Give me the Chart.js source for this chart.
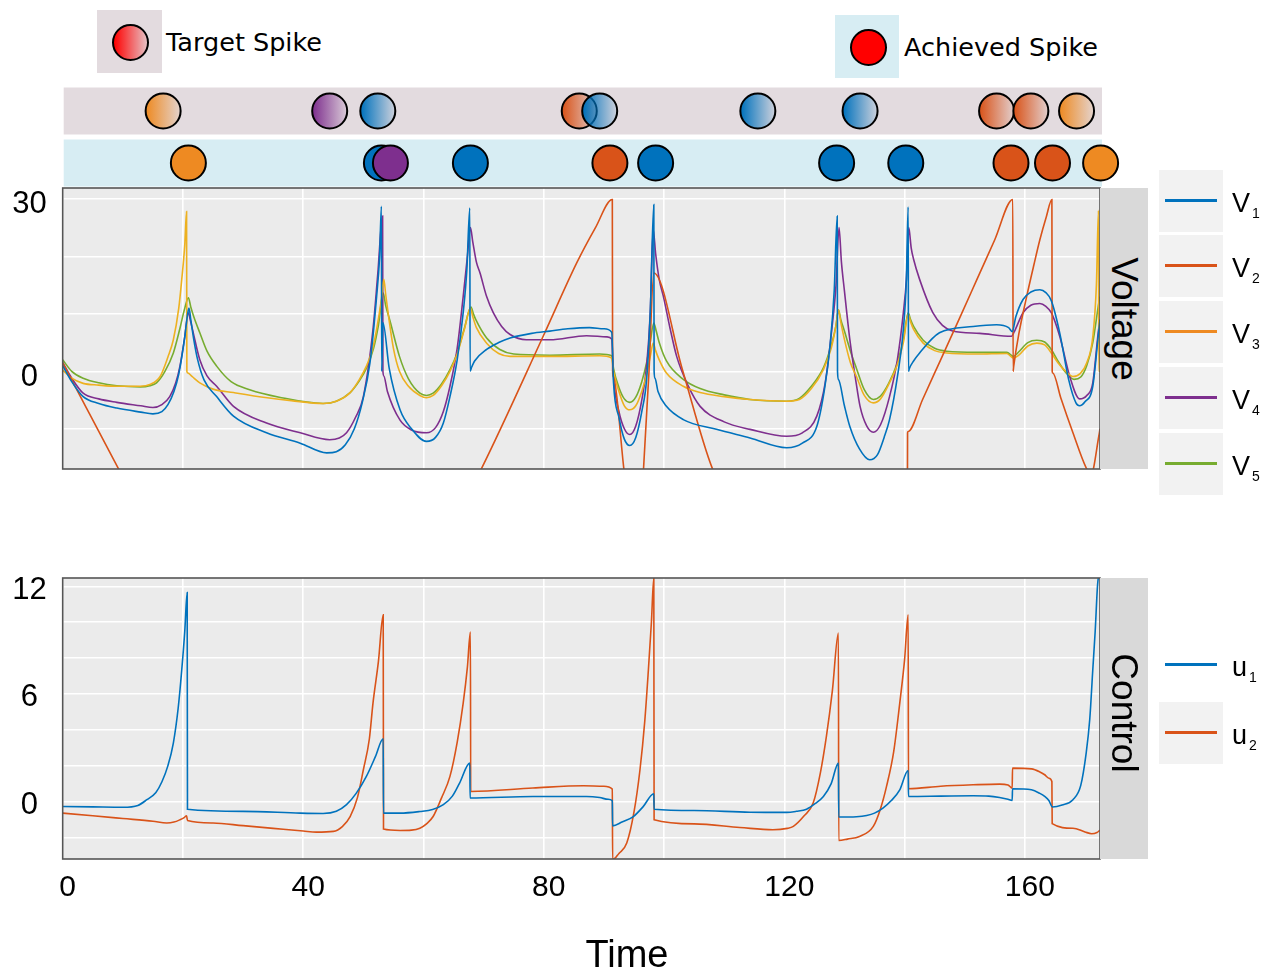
<!DOCTYPE html>
<html>
<head>
<meta charset="utf-8">
<script src="https://cdn.jsdelivr.net/npm/chart.js@4.4.1/dist/chart.umd.min.js"></script>
<style>
  body { margin: 0; background: #fff; }
  #fig { position: relative; width: 1265px; height: 973px; overflow: hidden; font-family: "Liberation Sans", Arial, sans-serif; color: #000; }
  #fig canvas { position: absolute; left: 0; }
  .abs { position: absolute; }
  .dot { position: absolute; width: 33px; height: 33px; border: 2px solid #000; border-radius: 50%; box-sizing: content-box; }
  .keytxt { position: absolute; font-family: "DejaVu Sans", sans-serif; font-size: 25.5px; line-height: 28px; white-space: nowrap; }
  .strip { position: absolute; left: 1100px; width: 48px; background: #D9D9D9; }
  .strip span { position: absolute; left: 50%; top: 50%; font-size: 37px; white-space: nowrap; transform: translate(-50%, -50%) rotate(90deg); }
  .lkey { position: absolute; left: 1159px; width: 64px; height: 62px; }
  .lkey i { position: absolute; left: 6px; right: 6px; top: 29px; height: 3px; }
  .llab { position: absolute; left: 1232px; font-size: 27px; line-height: 30px; }
  .llab sub { font-size: 14px; vertical-align: -6px; margin-left: 2px; }
  #xtitle { position: absolute; left: 527px; width: 200px; top: 932px; text-align: center; font-size: 38px; line-height: 44px; }
</style>
</head>
<body>
<div id="fig">
  <div class="abs" style="left:97px;top:10px;width:65px;height:63px;background:#E3DBDF"></div>
  <div class="dot" style="left:112px;top:24px;background:linear-gradient(to right, rgba(255,0,0,1), rgba(255,0,0,0.12))"></div>
  <div class="keytxt" style="left:166px;top:28px">Target Spike</div>
  <div class="abs" style="left:835px;top:15px;width:64px;height:63px;background:#D7EDF3"></div>
  <div class="dot" style="left:850px;top:29px;background:#FF0000"></div>
  <div class="keytxt" style="left:904px;top:33px">Achieved Spike</div>

  <canvas id="spikes" width="1265" height="115" style="top:80px"></canvas>
  <canvas id="volt" width="1265" height="320" style="top:170px"></canvas>
  <canvas id="ctrl" width="1265" height="413" style="top:560px"></canvas>

  <div class="strip" style="top:188px;height:281px"><span style="margin-top:-10px">Voltage</span></div>
  <div class="strip" style="top:578px;height:281px"><span style="margin-top:-6px">Control</span></div>
  <div id="legends"></div>
  <div id="xtitle">Time</div>
</div>

<script>
// shared time axis
const tMin = 0, tMax = 172.5;
const timeTicks = [0, 20, 40, 60, 80, 100, 120, 140, 160];
const timeLabels = [0, 40, 80, 120, 160];

const vMin = -17, vMax = 31.9;
const vTicks = [-10, 0, 10, 20, 30];
const vLabels = [0, 30];

const uMin = -3.21, uMax = 12.47;
const uTicks = [-2, 0, 2, 4, 6, 8, 10, 12];
const uLabels = [0, 6, 12];

const voltNames = ['V1', 'V2', 'V3', 'V4', 'V5'];
const ctrlNames = ['u1', 'u2'];
const lineColors = ['#0072BD', '#D95319', '#EDB120', '#7E2F8E', '#77AC30'];
const markColors = ['#0072BD', '#D95319', '#EE8A22', '#7E2F8E', '#77AC30'];

// spike times and the neuron (index into voltNames) that fired
const targetTimes = [16.7, 44.4, 52.4, 85.9, 89.3, 115.6, 132.6, 155.3, 161.0, 168.6];
const targetNeuron = [2, 3, 0, 1, 0, 0, 0, 1, 1, 2];
const achievedTimes = [20.9, 53.0, 54.5, 67.8, 91.0, 98.6, 128.7, 140.2, 157.7, 164.6, 172.6];
const achievedNeuron = [2, 0, 3, 0, 1, 0, 0, 0, 1, 1, 2];

// membrane voltages, [time, value]
const V1 = [[0,1.0],[1.5,-1.8],[3.4,-4.4],[6,-5.6],[9,-6.4],[13,-7.1],[15,-7.4],[16.5,-7.0],[17.5,-5.8],[18.5,-3.5],[19.3,-0.5],[20.3,6.0],[20.75,9.8],[21.0,11.0],[21.3,9.0],[21.8,5.5],[22.4,2.2],[23.5,-1.5],[25.6,-4.4],[28.4,-7.8],[33.9,-10.7],[39.5,-12.5],[43.9,-14.2],[45.5,-14.0],[47,-12.8],[48.5,-10.0],[49.8,-5.5],[51.1,1.5],[52.2,13],[52.7,20],[53.0,28.7],[53.05,0],[53.25,8.5],[54.3,0.5],[56.1,-6.7],[58,-10],[60.5,-12.2],[62,-11.5],[63.3,-9],[64.4,-4.4],[65.6,2],[66.6,10.2],[67.2,17.5],[67.7,28.4],[67.75,0],[68.0,0.7],[68.5,1.8],[70.5,3.8],[72.5,5.0],[74.4,5.8],[78,6.6],[81,7.0],[84,7.4],[87.6,7.6],[90,7.4],[91.3,6.8],[91.6,-2],[92.5,-8],[93.4,-11.8],[94.3,-12.9],[95.3,-11.5],[96.3,-7],[97.1,-1.4],[97.7,10],[98.3,29],[98.35,0],[98.5,-1.2],[99,-3.5],[100.4,-6.1],[103.2,-8.4],[108.7,-10.1],[114.3,-11.6],[120.4,-13.3],[123,-12.5],[125.4,-9.6],[126.7,-3],[127.6,4.4],[128.3,14],[128.8,27],[128.85,0],[129.0,-1.4],[130,-6],[130.9,-9.6],[132.5,-13.5],[134.2,-15.4],[135.5,-14.5],[136.6,-11.5],[137.5,-8.4],[138.8,-1],[139.8,7.3],[140.3,16],[140.6,28.6],[140.65,0],[140.8,0.5],[141.5,1.8],[142.5,3.2],[145.8,6.7],[151.4,7.8],[155.3,8.1],[157.3,7.6],[157.9,6.9],[158.5,9.5],[159.7,12.5],[161,13.8],[162.5,14.2],[163.5,13.7],[164.4,12.3],[165.8,6.7],[167.3,-1.5],[168.5,-5.5],[169.1,-6.0],[170,-5.3],[171.3,-2.6],[172.2,6.1],[172.5,9]];
const V2 = [[0,1.5],[4,-6.5],[9.2,-16.8],[15,-28],[25,-42],[40,-50],[55,-42],[63,-30],[69.7,-16.8],[79.9,6.1],[85.5,18.9],[88.6,25],[91.4,29.9],[91.45,0],[91.55,-0.9],[93.3,-16.8],[94.8,-30],[95.6,-30],[96.6,-16.8],[97.5,0],[98.3,17.1],[103,0.5],[108,-16.8],[115,-30],[128,-40],[140.45,-32],[140.5,-10.7],[140.6,-10.47],[143,-4.9],[146,2.0],[149.3,9.6],[152,15.9],[155,22.9],[158,29.9],[158.05,0],[158.15,0.9],[159,6.5],[160.3,13],[161.5,18.5],[162.5,22.9],[163.6,27],[164.5,29.9],[164.55,0],[164.65,-0.3],[166,-4.7],[168,-10.7],[170.2,-16.8],[171,-18],[172.3,-11.3],[172.5,-10]];
const V3 = [[0,0.2],[1.5,-1.2],[3.4,-2.1],[6,-2.4],[9,-2.6],[12.9,-2.6],[14.5,-2.3],[16.2,-0.9],[17.5,2.5],[18.4,5.5],[19.3,11],[19.8,16],[20.3,22],[20.6,27.8],[20.65,0],[20.8,-0.3],[21.5,-0.9],[22.8,-2],[25,-3.1],[28.4,-3.7],[34,-4.6],[38,-5.1],[43.3,-5.6],[45.5,-5.2],[47.8,-3.7],[49.3,-1.5],[50.5,0.9],[51.5,3.8],[52.2,7.3],[53.0,12.5],[53.4,16],[53.7,13.5],[54.2,9.5],[55,4],[56,0],[57.5,-2.6],[59.4,-4.2],[60.5,-4.6],[61.6,-4.2],[63,-2.5],[64.4,0],[65.6,3],[66.8,7.3],[67.8,11],[68.2,9.5],[68.8,7.6],[70.5,4.9],[72.5,3.1],[74.4,2.6],[81,2.6],[89.3,2.7],[91.3,2.3],[91.6,0],[92.5,-3.5],[93.4,-6],[94.3,-6.7],[95.3,-6],[96.3,-3.5],[97.1,-0.5],[97.7,2.5],[98.2,4.9],[98.6,3.6],[99.2,2],[100.4,-0.3],[103.2,-2.6],[106,-3.7],[110,-4.4],[114.3,-4.9],[120.4,-5.2],[122.5,-4.9],[124.5,-3],[126.5,0.3],[127.8,4],[128.6,8],[129,10.7],[129.4,8.5],[129.9,6],[131,1.5],[132,-0.9],[133.3,-4.2],[134.8,-5.5],[136,-4.8],[137.4,-2.2],[138.7,0.9],[139.8,5],[140.6,9.9],[141,8.6],[141.5,7.3],[143.1,4.9],[145,3.6],[147,3.2],[152,3.0],[157,3.1],[158.1,2.3],[159,2.8],[160.5,4.4],[162,4.9],[163.3,4.6],[164.4,3.2],[165.5,1.5],[166.8,0],[168,-0.9],[169.2,-0.4],[170.3,1.5],[171.3,6],[171.9,15],[172.25,28],[172.3,0],[172.5,0]];
const V4 = [[0,1.5],[1.5,-1.2],[3.4,-3.8],[6,-4.8],[9,-5.4],[13,-6.0],[15,-6.3],[16.5,-5.8],[17.8,-4.4],[18.8,-2],[19.5,0.9],[20.3,6],[20.9,10.2],[21.2,9],[21.6,7.2],[22.8,2],[24,-0.8],[25.6,-2.6],[28.4,-6.1],[33.9,-9],[39.5,-10.7],[44.4,-11.9],[46,-11.6],[47.2,-10.7],[48.7,-8],[50,-4.4],[51.6,7.3],[52.4,17],[53.2,27],[53.25,0],[53.4,-0.8],[54,-3.5],[56.1,-8.5],[58,-10.2],[60.5,-10.7],[62,-9.8],[63.3,-7],[64.4,-2.6],[65.6,4],[66.6,13],[67.3,20],[67.8,25],[68.2,22.5],[68.8,19],[69.4,17.1],[70.5,13],[71.6,10.2],[73,7.8],[74.4,6.4],[77.1,5.5],[81,5.5],[87.1,6.2],[90.5,6.0],[91.3,5.6],[91.6,-1],[92.5,-7],[93.4,-10],[94.3,-11],[95.3,-9.5],[96.3,-5],[97.1,0.9],[97.7,10],[98.2,24.7],[98.6,20.5],[99.2,16],[99.9,13],[101,7.5],[102.1,2.6],[104,-2.5],[106,-6.1],[110,-8.8],[114.3,-10.1],[120.4,-11.3],[123,-10.7],[125.4,-7.8],[126.8,-2],[127.9,7.3],[128.6,15],[129.1,25],[129.5,19],[130,14],[130.9,5.5],[131.8,-1],[132.6,-6.1],[133.7,-9.5],[134.8,-10.6],[136,-9.3],[137.5,-4.4],[138.8,2],[139.8,10.2],[140.3,16],[140.7,25],[141.1,21.5],[141.5,19.5],[142.5,16],[144.7,10.2],[146.3,8],[148,7],[152.5,6.6],[157.8,6.1],[158.2,6.8],[159.7,10.2],[161,11.5],[162.5,11.8],[163.5,11.3],[164.4,10.2],[165.8,6.1],[167.5,-1],[169.1,-4.8],[170.3,-4.2],[171.3,-2],[172.2,6.7],[172.5,9]];
const V5 = [[0,2],[1.5,0],[3.4,-1.2],[6,-2.0],[9,-2.5],[12.9,-2.7],[14.5,-2.5],[15.6,-2.0],[17,0],[18.4,3.2],[19.5,7.5],[20.3,11],[20.9,12.8],[21.3,11.2],[21.8,9.5],[22.8,6.7],[24,3.5],[25.6,0.9],[28,-1.8],[31.1,-3.2],[36,-4.5],[43.3,-5.6],[45.5,-5.2],[47.8,-3.7],[49.3,-1.7],[50.5,0.5],[51.7,4],[52.5,8],[53.3,13.6],[53.7,11.5],[54.5,8.5],[56,2.6],[57.5,-1.3],[59.4,-3.8],[60.5,-4.2],[61.6,-3.8],[63,-2.2],[64.4,0.3],[65.6,3.2],[66.8,7.5],[67.9,11.2],[68.3,10],[68.7,9],[70.5,5.8],[72.7,3.8],[75,3.0],[81,2.8],[89.3,3.0],[91.3,2.7],[91.6,0.5],[92.5,-2.8],[93.4,-4.8],[94.3,-5.4],[95.3,-4.5],[96.3,-1.8],[97.1,1.5],[97.7,5],[98.3,8.4],[98.7,7],[99.2,5],[100.4,1.8],[103.2,-1.4],[106,-3.0],[110,-4.1],[114.3,-4.9],[120.4,-5.2],[122.5,-4.7],[124.5,-2.6],[126.5,0.6],[127.8,4.5],[128.6,8],[129,10.7],[129.4,9],[130,7],[131,3.5],[132,0.5],[133.3,-3.2],[134.8,-4.9],[136,-4.3],[137.4,-2],[138.7,1.2],[139.8,5.5],[140.6,10.2],[141,9],[141.5,7.8],[143.1,5.4],[145,4.0],[147,3.5],[152,3.3],[157,3.3],[158.1,2.6],[159,3.4],[160.5,5],[162,5.4],[163.3,5.1],[164.4,3.8],[165.5,1.8],[166.8,-0.2],[168.2,-1.4],[169.3,-1],[170.3,1],[171.3,5],[172.3,11.9],[172.5,13]];

// control inputs, [time, value]
const u1 = [[0,-0.28],[5,-0.3],[10,-0.32],[12.5,-0.22],[14,0.1],[15.5,0.5],[16.5,1.1],[17.5,2.0],[18.4,3.26],[19.2,5.2],[19.8,7.35],[20.3,9.5],[20.7,11.66],[20.75,-0.43],[30,-0.55],[39.5,-0.65],[43.3,-0.67],[45.5,-0.55],[47.2,-0.18],[48.8,0.45],[50.5,1.4],[52,2.5],[53.3,3.5],[53.35,-0.65],[56.1,-0.65],[59.4,-0.56],[61.5,-0.45],[63.3,-0.18],[64.8,0.3],[66,1.03],[67.7,2.14],[67.75,0.19],[78.2,0.28],[87.1,0.28],[89.3,0.22],[90.7,0.12],[91.4,0.04],[91.45,-1.36],[93,-1.15],[94.9,-0.84],[96.5,-0.3],[98.3,0.43],[98.35,-0.43],[105,-0.5],[114.3,-0.6],[120.4,-0.61],[122,-0.55],[123.7,-0.43],[125.2,-0.1],[126.5,0.28],[127.8,1.0],[129,2.14],[129.05,-0.87],[132,-0.85],[133.7,-0.78],[135,-0.65],[136.4,-0.37],[137.8,0.05],[139.2,0.65],[140.6,1.73],[140.65,0.28],[146,0.3],[151.4,0.32],[154,0.3],[155.8,0.22],[157.2,0.12],[157.9,0.06],[157.95,0.71],[161.1,0.65],[162.5,0.45],[163.3,0.28],[164,0.05],[164.6,-0.31],[166.2,-0.2],[168,0.1],[169.3,0.9],[170.2,2.7],[170.8,4.6],[171.3,7.35],[171.7,9.5],[172.1,12.1],[172.5,13]];
const u2 = [[0,-0.65],[5,-0.8],[10,-0.95],[15,-1.1],[17.3,-1.2],[18.5,-1.15],[19.5,-1.02],[20.2,-0.9],[20.6,-0.8],[20.75,-1.06],[25,-1.2],[30,-1.35],[35,-1.5],[40,-1.65],[42.2,-1.71],[45,-1.67],[46.5,-1.4],[47.8,-0.84],[49,0.2],[50,1.77],[51,3.5],[51.6,5.49],[52.5,7.8],[53.3,10.42],[53.35,-1.54],[56.1,-1.62],[58,-1.6],[59.4,-1.49],[60.5,-1.25],[61.6,-0.84],[63,0.2],[64.4,1.4],[65.6,3.3],[66.6,5.49],[67.3,7.5],[67.8,9.45],[67.85,0.56],[78.2,0.75],[86.6,0.88],[90,0.85],[91.4,0.69],[91.45,-3.25],[92.5,-2.9],[93.8,-2.32],[95,-0.6],[96,1.77],[96.8,4.5],[97.4,7.35],[97.9,10],[98.3,12.47],[98.35,-1.02],[105,-1.25],[112.6,-1.45],[118.1,-1.58],[120.5,-1.5],[121.5,-1.39],[123.3,-0.8],[124.8,-0.09],[126,1.6],[127,3.63],[128,6.2],[129,9.4],[129.05,-2.18],[130.5,-2.1],[132.5,-1.95],[134.8,-1.39],[136,-0.4],[137,0.84],[138.2,2.8],[139.2,5.49],[140,7.9],[140.6,10.42],[140.65,0.71],[146,0.85],[151.4,0.93],[155.8,0.97],[157.2,0.92],[157.9,0.74],[157.95,1.86],[161.1,1.82],[162.5,1.65],[163.3,1.49],[164,1.3],[164.5,1.12],[164.55,-1.24],[168,-1.49],[170,-1.7],[171.1,-1.8],[172,-1.73],[172.5,-1.6]];

const LEFT = 62.7, RIGHT = 165;   // plot area spans x 62.7 .. 1100 in every panel

// grey panel with dark frame
const panelPlugin = {
  id: 'panel',
  beforeDraw(chart) {
    const { ctx, chartArea: a } = chart;
    ctx.save();
    ctx.fillStyle = '#EBEBEB';
    ctx.fillRect(a.left, a.top, a.width, a.height);
    ctx.restore();
  },
  afterDatasetsDraw(chart) {
    const { ctx, chartArea: a } = chart;
    ctx.save();
    ctx.strokeStyle = '#555555';
    ctx.lineWidth = 1.6;
    ctx.strokeRect(a.left, a.top, a.width, a.height);
    ctx.restore();
  }
};

// coloured bands behind the two spike rows
const bandPlugin = {
  id: 'bands',
  beforeDatasetsDraw(chart) {
    const { ctx, chartArea: a, scales: { y } } = chart;
    const rows = [[1, '#E3DBDF'], [0, '#D7EDF3']];
    ctx.save();
    rows.forEach(([v, c]) => {
      const py = y.getPixelForValue(v);
      ctx.fillStyle = c;
      ctx.fillRect(a.left + 1, py - 23.5, a.width + 1, 47);
    });
    ctx.restore();
  }
};

function hexA(hex, a) {
  const n = parseInt(hex.slice(1), 16);
  return `rgba(${n >> 16},${(n >> 8) & 255},${n & 255},${a})`;
}

// target spikes fade from the neuron colour to almost clear
function fadeFill(ctx) {
  if (ctx.type !== 'data' || !ctx.chart.chartArea) return '#ccc';
  const col = markColors[ctx.raw.n];
  const px = ctx.chart.scales.x.getPixelForValue(ctx.raw.x);
  const g = ctx.chart.ctx.createLinearGradient(px - 17, 0, px + 17, 0);
  g.addColorStop(0, hexA(col, 1));
  g.addColorStop(1, hexA(col, 0.1));
  return g;
}

new Chart(document.getElementById('spikes'), {
  type: 'scatter',
  data: {
    datasets: [
      {
        label: 'Target Spike',
        data: targetTimes.map((t, i) => ({ x: t, y: 1, n: targetNeuron[i] })),
        backgroundColor: fadeFill,
        borderColor: '#000', borderWidth: 2, pointRadius: 17.5, clip: false
      },
      {
        label: 'Achieved Spike',
        data: achievedTimes.map((t, i) => ({ x: t, y: 0, n: achievedNeuron[i] })),
        backgroundColor: ctx => ctx.raw ? markColors[ctx.raw.n] : '#ccc',
        borderColor: '#000', borderWidth: 2, pointRadius: 17.5, clip: false
      }
    ]
  },
  options: {
    responsive: false, animation: false, events: [],
    layout: { autoPadding: false, padding: { left: LEFT, right: RIGHT, top: 0, bottom: 0 } },
    scales: {
      x: { type: 'linear', min: tMin, max: tMax, display: false },
      y: { type: 'linear', min: -0.615, max: 1.596, display: false }
    },
    plugins: { legend: { display: false }, tooltip: { enabled: false } }
  },
  plugins: [bandPlugin]
});

function series(label, pts, color) {
  return {
    label,
    data: pts.map(p => ({ x: p[0], y: p[1] })),
    borderColor: color, borderWidth: 1.6, pointRadius: 0,
    cubicInterpolationMode: 'monotone', fill: false
  };
}

function noPad(s) {
  s.paddingTop = 0; s.paddingBottom = 0; s.paddingLeft = 0; s.paddingRight = 0;
}

function panelOptions(yMin, yMax, yTicks, yLabels, showX, yShift) {
  return {
    responsive: false, animation: false, events: [],
    layout: { autoPadding: false, padding: { left: 0, right: RIGHT, top: 18, bottom: showX ? 0 : 21 } },
    scales: {
      x: {
        type: 'linear', min: tMin, max: tMax,
        afterBuildTicks: s => { s.ticks = timeTicks.map(v => ({ value: v })); },
        afterFit: s => { s.height = showX ? 114 : 0; noPad(s); },
        grid: { color: '#FFFFFF', lineWidth: 1.6, drawTicks: false },
        border: { display: false },
        ticks: {
          display: showX, autoSkip: false, maxRotation: 0, padding: 11, labelOffset: 5,
          color: '#000', font: { family: 'Liberation Sans', size: 30 },
          callback: v => timeLabels.includes(v) ? String(v) : ''
        }
      },
      y: {
        type: 'linear', min: yMin, max: yMax,
        afterBuildTicks: s => { s.ticks = yTicks.map(v => ({ value: v })); },
        afterFit: s => { s.width = LEFT; noPad(s); },
        grid: { color: '#FFFFFF', lineWidth: 1.6, drawTicks: false },
        border: { display: false },
        ticks: {
          autoSkip: false, crossAlign: 'center', padding: 16, labelOffset: yShift,
          color: '#000', font: { family: 'Liberation Sans', size: 31 },
          callback: v => yLabels.includes(v) ? String(v) : ''
        }
      }
    },
    plugins: { legend: { display: false }, tooltip: { enabled: false } }
  };
}

new Chart(document.getElementById('volt'), {
  type: 'line',
  data: { datasets: [V1, V2, V3, V4, V5].map((s, i) => series(voltNames[i], s, lineColors[i])) },
  options: panelOptions(vMin, vMax, vTicks, vLabels, false, 6),
  plugins: [panelPlugin]
});

new Chart(document.getElementById('ctrl'), {
  type: 'line',
  data: { datasets: [u1, u2].map((s, i) => series(ctrlNames[i], s, lineColors[i])) },
  options: panelOptions(uMin, uMax, uTicks, uLabels, true, 4),
  plugins: [panelPlugin]
});

// side legends
const legends = document.getElementById('legends');
function addKey(name, color, top, boxFill) {
  const key = document.createElement('div');
  key.className = 'lkey';
  key.style.top = top + 'px';
  key.style.background = boxFill;
  key.innerHTML = `<i style="background:${color}"></i>`;
  legends.appendChild(key);
  const lab = document.createElement('div');
  lab.className = 'llab';
  lab.style.top = (top + 18) + 'px';
  lab.innerHTML = `${name[0]}<sub>${name.slice(1)}</sub>`;
  legends.appendChild(lab);
}
voltNames.forEach((n, i) => addKey(n, markColors[i], 169.5 + i * 65.8, '#F2F2F2'));
ctrlNames.forEach((n, i) => addKey(n, lineColors[i], 634 + i * 67.5, i === 0 ? '#FFFFFF' : '#F2F2F2'));
</script>
</body>
</html>
